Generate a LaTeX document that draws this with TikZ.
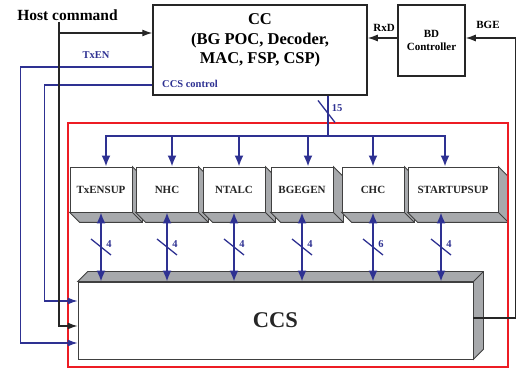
\documentclass[tikz,border=0pt]{standalone}
\usepackage{fontspec}
\setmainfont{Liberation Serif}
\usepackage{tikz}
\usetikzlibrary{arrows.meta,calc}
\pgfdeclarelayer{background}
\pgfsetlayers{background,main}
\definecolor{busblue}{RGB}{46,49,146}
\definecolor{blockgray}{RGB}{167,169,172}
\definecolor{framered}{RGB}{237,28,36}

\begin{document}
\begin{tikzpicture}[x=1pt,y=-1pt,font=\bfseries]
\tikzstyle{box}=[draw=black!85,line width=1.5pt,inner sep=0pt]
\tikzstyle{module}=[draw=black!75,line width=0.8pt,fill=white,minimum height=45pt,inner sep=0pt,text=black!85,font=\fontsize{11}{13}\selectfont\bfseries]
\tikzstyle{bus}=[busblue,line width=2pt]
\tikzstyle{busarrow}=[bus,-{Latex[length=11pt,width=9pt]}]
\tikzstyle{ctrl}=[busblue,line width=1.1pt,-{Latex[length=10pt,width=7pt]}]
\tikzstyle{host}=[black!85,line width=1.2pt,-{Latex[length=10pt,width=7pt]}]
\tikzstyle{tag}=[text=busblue,font=\fontsize{10.5}{12}\selectfont\bfseries,inner sep=0pt]
\tikzstyle{sig}=[font=\fontsize{11}{13}\selectfont\bfseries,inner sep=0pt]
\useasboundingbox (0,0) rectangle (520,371);

% top row
\node[box,minimum width=214pt,minimum height=90pt] (cc) at (260,50) {};
\node[align=center,inner sep=0pt,font=\fontsize{16.5}{19.5}\selectfont\bfseries] (cctitle) at (260,40.5) {CC\\(BG POC, Decoder,\\MAC, FSP, CSP)};
\node[box,minimum width=67pt,minimum height=71pt,align=center,font=\fontsize{11}{13}\selectfont\bfseries] (bd) at (431.5,40.5) {BD\\Controller};
\node[inner sep=0pt,font=\fontsize{15.5}{18}\selectfont\bfseries] (host) at (67.5,15) {Host command};

% red frame
\draw[framered,line width=1.3pt] (68,123) rectangle (508,367);

% sub controllers
\foreach \name/\txt/\x/\w in {txensup/TxENSUP/101/62, nhc/NHC/167/62, ntalc/NTALC/234/62, bgegen/BGEGEN/302/62, chc/CHC/373/62, startupsup/STARTUPSUP/453/90} {
  \node[module,minimum width=\w pt] (\name) at (\x,189.5) {\txt};
  \begin{pgfonlayer}{background}
  \filldraw[fill=blockgray,draw=black!75,line width=0.8pt] (\name.north east) -- ++(10,10) -- ([shift={(10,10)}]\name.south east) -- ([shift={(10,10)}]\name.south west) -- (\name.south west) -- (\name.south east) -- cycle;
  \draw[black!75,line width=0.8pt] (\name.south east) -- ++(10,10);
  \end{pgfonlayer}
}

% CCS block
\node[module,minimum width=395pt,minimum height=77pt,font=\fontsize{22.5}{26}\selectfont\bfseries] (ccs) at (275.5,320.5) {CCS};
\begin{pgfonlayer}{background}
\filldraw[fill=blockgray,draw=black!75,line width=0.8pt] (ccs.north west) -- ++(10,-10) -- ([shift={(10,-10)}]ccs.north east) -- ([shift={(10,-10)}]ccs.south east) -- (ccs.south east) -- (ccs.north east) -- cycle;
\draw[black!75,line width=0.8pt] (ccs.north east) -- ++(10,-10);
\end{pgfonlayer}

% 15 bit bus
\path ([xshift=68pt]cc.south) coordinate (bustop);
\coordinate (busj) at (328,136);
\draw[bus] (bustop) -- (busj);
\path (bustop) -- coordinate[pos=0.39] (mark15) (busj);
\draw[bus,line width=1.3pt] ([shift={(-10,-11)}]mark15) -- ([shift={(7,11)}]mark15);
\node[tag] (n15) at ([shift={(9,-3)}]mark15) {15};
\foreach \name/\dx in {txensup/5,nhc/5,ntalc/5,bgegen/6,chc/0,startupsup/-8} {
  \path ([xshift=\dx pt]\name.north) coordinate (in\name);
  \draw[busarrow] (in\name |- busj) -- (in\name);
}
\draw[bus,line cap=rect] (intxensup |- busj) -- (instartupsup |- busj);

% links to CCS
\foreach \name/\bx/\bits in {txensup/0/4,nhc/0/4,ntalc/0/4,bgegen/0/4,chc/0/6,startupsup/-12/4} {
  \path ([xshift=\bx pt]\name.south) coordinate (out\name);
  \draw[bus,{Latex[length=11pt,width=9pt]}-{Latex[length=11pt,width=9pt]}] (out\name) -- coordinate[pos=0.5] (mid\name) (out\name |- ccs.north);
  \draw[bus,line width=1.3pt] ([shift={(-10,-8)}]mid\name) -- ([shift={(10,8)}]mid\name);
  \node[tag] (w\name) at ([shift={(8,-3)}]mid\name) {\bits};
}

% control lines
\draw[ctrl] ([yshift=-17pt]cc.west) -- ++(-132,0) |- ([yshift=-22.5pt]ccs.west);
\node[tag] (txen) at (96,55) {TxEN};
\draw[ctrl] ([yshift=-35pt]cc.west) -- ++(-108,0) |- ([yshift=19.5pt]ccs.west);
\node[tag,anchor=west] (ccsctrl) at (162,84) {CCS control};

% host command
\coordinate (hc) at (59,22);
\draw[host] (hc) |- ([yshift=-5.5pt]ccs.west);
\path ([yshift=17pt]cc.west) coordinate (ccin);
\draw[host] (ccin -| hc) -- (ccin);

% RxD and BGE
\path ([yshift=2.5pt]bd.west) coordinate (rxd);
\draw[host] (rxd) -- (rxd -| cc.east);
\node[sig] (rxdlabel) at (384,28) {RxD};
\draw[host] ([yshift=2.5pt]ccs.east) -- ++(42,0) |- ([yshift=2.5pt]bd.east);
\node[sig] (bgelabel) at (488,25) {BGE};
\end{tikzpicture}
\end{document}
